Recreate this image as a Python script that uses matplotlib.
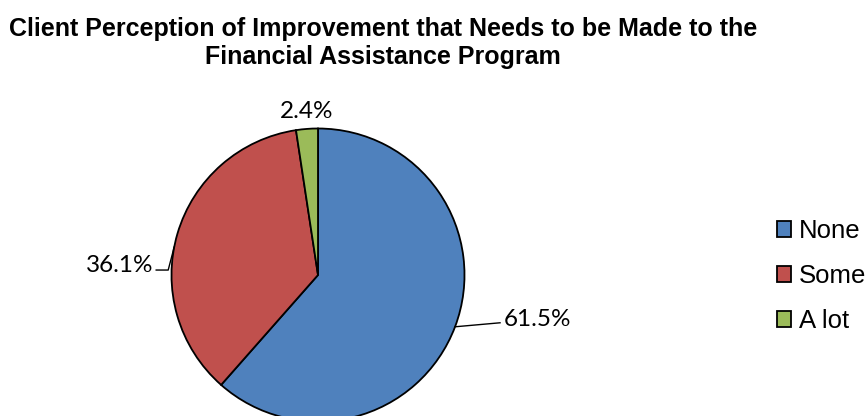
import numpy as np
import matplotlib
matplotlib.use("Agg")
from matplotlib import pyplot as plt

# survey answers
labels = ["None", "Some", "A lot"]
shares = [61.5, 36.1, 2.4]
colors = ["#4F81BD", "#C0504D", "#9BBB59"]
title = "Client Perception of Improvement that Needs to be Made to the\nFinancial Assistance Program"

W, H = 868, 416
fig = plt.figure(figsize=(W / 100, H / 100), dpi=100)
ax = fig.add_axes([0, 0, 1, 1])

label_font = "Lato"

cx, cy, r = 318, H - 275, 146.5
wedges, _ = ax.pie(shares, colors=colors, startangle=90, counterclock=False,
                   center=(cx, cy), radius=r, frame=True,
                   wedgeprops=dict(edgecolor="black", linewidth=1.3))
ax.set_xlim(0, W)
ax.set_ylim(0, H)
ax.set_aspect("equal")
ax.axis("off")

def edge_pt(ang):
    a = np.deg2rad(ang)
    return cx + r * np.cos(a), cy + r * np.sin(a)

mids = [(w.theta1 + w.theta2) / 2 for w in wedges]
lbl = ["%.1f%%" % s for s in shares]
fs = 17.5

# None: straight leader from the wedge middle to the label
x0, y0 = edge_pt(mids[0])
ax.plot([x0, x0 + 45], [y0, y0 + 4], color="black", lw=1)
ax.text(x0 + 49, y0 + 7, lbl[0], ha="left", va="center",
        fontsize=fs, family=label_font)

# Some: elbow leader on the left side
x1, y1 = edge_pt(169)
ax.plot([x1, x1 - 6, x1 - 18], [y1, y1 - 23, y1 - 23], color="black", lw=1)
ax.text(x1 - 21, y1 - 18, lbl[1], ha="right", va="center",
        fontsize=fs, family=label_font)

# A lot: label just above the thin slice
x2, y2 = edge_pt(mids[2])
ax.text(x2, y2 + 17, lbl[2], ha="center", va="center",
        fontsize=fs, family=label_font)

fig.text(383 / W, 1 - 43 / H, title, ha="center", va="center",
         fontsize=18, weight="bold", family="Liberation Sans",
         linespacing=1.2)

leg = fig.legend(wedges, labels, loc="center left", bbox_to_anchor=(777 / W, 1 - 276 / H),
                 frameon=False, prop=dict(family="Liberation Sans", size=18.5),
                 handlelength=0.55, handleheight=0.55, handletextpad=0.3,
                 labelspacing=0.82, borderpad=0, borderaxespad=0)
for h in leg.legend_handles:
    h.set_linewidth(1.3)

fig.savefig("out.png", dpi=100)
